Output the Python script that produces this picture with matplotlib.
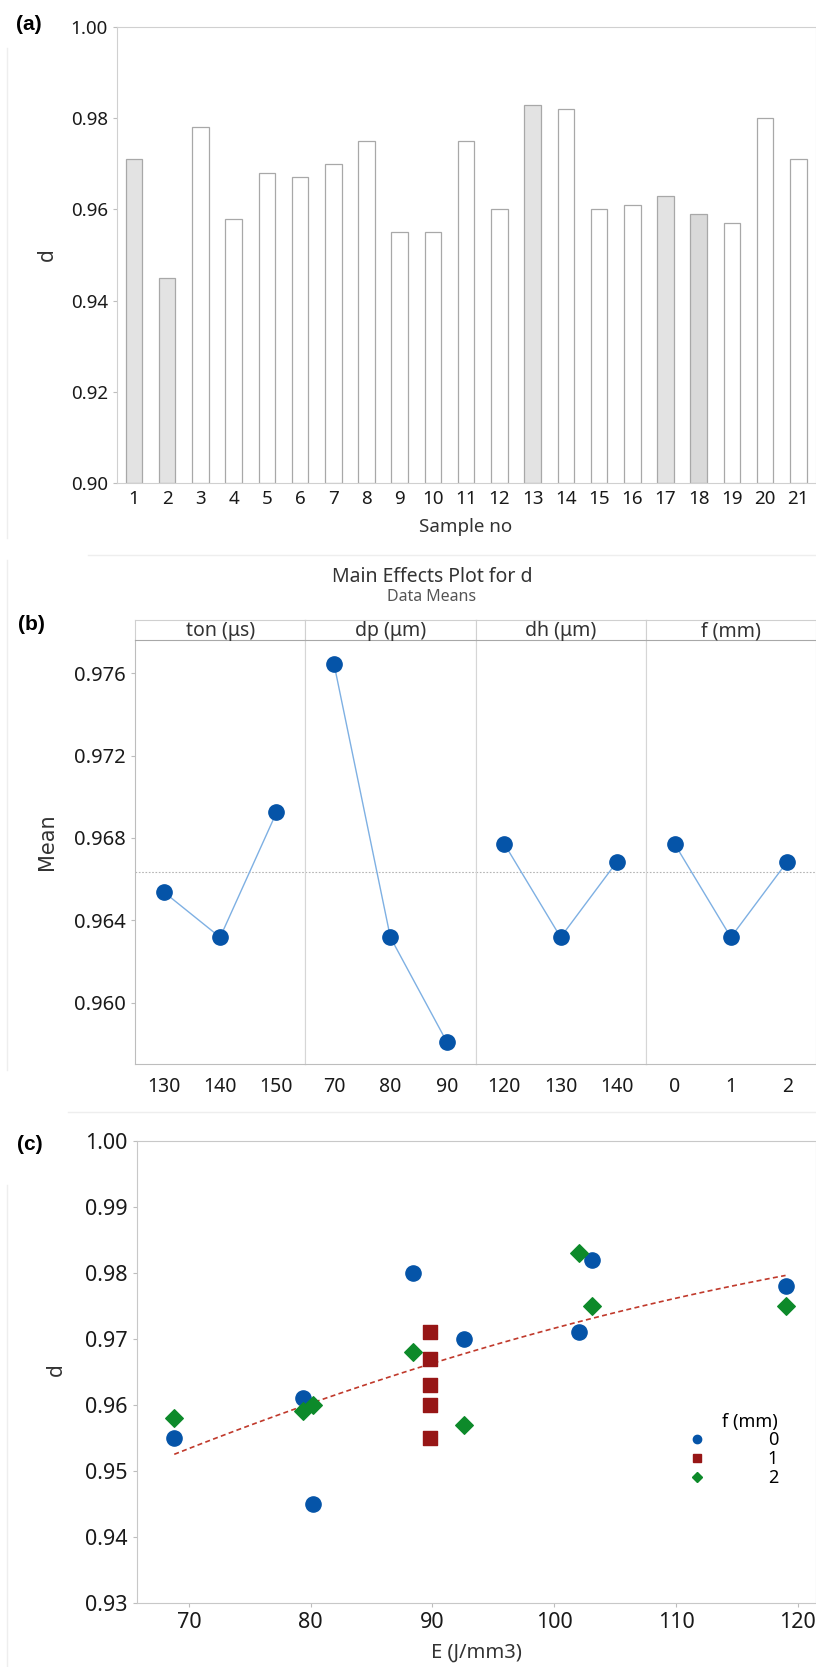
import matplotlib.pyplot as plt
from matplotlib.lines import Line2D
import numpy as np

plt.rcParams['font.family'] = ['Noto Sans', 'DejaVu Sans']

# (a) density ratio per sample
samples = list(range(1, 22))
d_values = [0.971, 0.945, 0.978, 0.958, 0.968, 0.967, 0.970, 0.975, 0.955, 0.955,
            0.975, 0.960, 0.983, 0.982, 0.960, 0.961, 0.963, 0.959, 0.957, 0.980, 0.971]
shaded = {1: '#e3e3e3', 2: '#e3e3e3', 13: '#e3e3e3', 17: '#e3e3e3', 18: '#d9d9d9'}

# (b) main effects
factors = ['ton (μs)', 'dp (μm)', 'dh (μm)', 'f (mm)']
levels = [['130', '140', '150'], ['70', '80', '90'], ['120', '130', '140'], ['0', '1', '2']]
level_means = [[0.96538, 0.96318, 0.96924],
               [0.97645, 0.96318, 0.95811],
               [0.96772, 0.96318, 0.96685],
               [0.96772, 0.96318, 0.96685]]

# (c) d vs energy density, grouped by f
E_f0 = [68.8, 79.4, 80.2, 88.4, 92.6, 102.0, 103.1, 119.0]
d_f0 = [0.955, 0.961, 0.945, 0.980, 0.970, 0.971, 0.982, 0.978]
E_f1 = [89.8, 89.8, 89.8, 89.8, 89.8]
d_f1 = [0.971, 0.967, 0.963, 0.960, 0.955]
E_f2 = [68.8, 79.4, 80.2, 88.4, 92.6, 102.0, 103.1, 119.0]
d_f2 = [0.958, 0.959, 0.960, 0.968, 0.957, 0.983, 0.975, 0.975]

W, H = 816, 1667
fig = plt.figure(figsize=(W / 100, H / 100), dpi=100)


def box(x0, y0, x1, y1):
    # pixel box (top-left origin) -> figure fraction rect
    return [x0 / W, 1 - y1 / H, (x1 - x0) / W, (y1 - y0) / H]


spine_c = '#bdbdbd'
tick_c = '#1a1a1a'
lab_c = '#333333'
panel_font = dict(fontsize=15, fontweight='bold', family='Liberation Sans', ha='center', va='center')

# faint panel frames
for (x0, y0, x1, y1) in [(7, 48, 538, 555), (7, 560, 1070, 1112), (7, 1185, 1667, 1667)]:
    fig.add_artist(Line2D([x0 / W, x0 / W], [1 - y0 / H, 1 - x1 / H], color='#eeeeee', lw=1))
    if y1 < H:
        fig.add_artist(Line2D([(88 if y1 == 555 else 68) / W, 1], [1 - y1 / H, 1 - y1 / H],
                              color='#eeeeee', lw=1))

# ---------- (a)
ax = fig.add_axes(box(117, 27, 816, 483))
cols = [shaded.get(s, 'white') for s in samples]
ax.bar(samples, [v - 0.9 for v in d_values], bottom=0.9, width=0.5, color=cols,
       edgecolor='#a8a8a8', linewidth=0.9)
ax.set_xlim(0.49, 21.53)
ax.set_ylim(0.9, 1.0)
ax.set_xticks(samples)
ax.set_yticks([0.90, 0.92, 0.94, 0.96, 0.98, 1.00])
ax.yaxis.set_major_formatter(plt.FormatStrFormatter('%.2f'))
ax.tick_params(axis='both', labelsize=13.5, colors=spine_c, labelcolor=tick_c, length=3)
ax.tick_params(axis='x', length=0, pad=5)
for s in ax.spines.values():
    s.set_color('#d0d0d0')
fig.text(29 / W, 1 - 25 / H, '(a)', **panel_font)
fig.text(47 / W, 1 - 255 / H, 'd', fontsize=15, rotation=90, ha='center', va='center', color=lab_c)
fig.text(466 / W, 1 - 527 / H, 'Sample no', fontsize=13.5, ha='center', va='center', color=lab_c)

# ---------- (b)
fig.text(432 / W, 1 - 577 / H, 'Main Effects Plot for d', fontsize=14, ha='center', va='center',
         color=lab_c)
fig.text(432 / W, 1 - 597 / H, 'Data Means', fontsize=11.5, ha='center', va='center', color='#555555')
fig.text(31 / W, 1 - 625 / H, '(b)', **panel_font)
grand_mean = np.mean(d_values)
pw = (816 - 135) / 4
for i, (name, labs, m) in enumerate(zip(factors, levels, level_means)):
    x0 = 135 + i * pw
    bx = fig.add_axes(box(x0, 640, x0 + pw, 1064))
    bx.axhline(grand_mean, color='#b5b5b5', ls=(0, (1.5, 1.5)), lw=0.8, zorder=1)
    bx.plot(range(3), m, color='#7eb0e3', lw=1, zorder=2)
    bx.plot(range(3), m, 'o', color='#0554a8', ms=11, zorder=3)
    bx.set_xlim(-0.51, 2.51)
    bx.set_ylim(0.95703, 0.97761)
    bx.set_xticks(range(3))
    bx.set_xticklabels(labs)
    bx.tick_params(axis='x', labelsize=14, length=0, pad=9, labelcolor=tick_c)
    if i == 0:
        bx.set_yticks([0.960, 0.964, 0.968, 0.972, 0.976])
        bx.yaxis.set_major_formatter(plt.FormatStrFormatter('%.3f'))
        bx.tick_params(axis='y', labelsize=14.5, length=3, colors=spine_c, labelcolor=tick_c)
    else:
        bx.set_yticks([])
    bx.spines['top'].set_visible(False)
    bx.spines['bottom'].set_color(spine_c)
    bx.spines['left'].set_color(spine_c if i == 0 else '#d6d6d6')
    bx.spines['right'].set_color('#d6d6d6')
    hx = fig.add_axes(box(x0, 620, x0 + pw, 640))
    hx.set_xticks([])
    hx.set_yticks([])
    for s in hx.spines.values():
        s.set_color('#d0d0d0')
    hx.spines['bottom'].set_color('#a8a8a8')
    hx.text(0.5, 0.45, name, fontsize=14, ha='center', va='center', color=lab_c,
            transform=hx.transAxes)
fig.text(47 / W, 1 - 842 / H, 'Mean', fontsize=15, rotation=90, ha='center', va='center',
         color=lab_c, family='DejaVu Sans')

# ---------- (c)
cx = fig.add_axes(box(136.5, 1141, 816, 1602.7))
cx.scatter(E_f0, d_f0, marker='o', s=120, color='#0554a8', zorder=3)
cx.scatter(E_f1, d_f1, marker='s', s=100, color='#971616', zorder=3)
cx.scatter(E_f2, d_f2, marker='D', s=80, color='#0d8a2a', zorder=3)
E_all = np.array(E_f0 + E_f1 + E_f2)
d_all = np.array(d_f0 + d_f1 + d_f2)
coef = np.polyfit(E_all, d_all, 2)
xs = np.linspace(E_all.min(), E_all.max(), 100)
cx.plot(xs, np.polyval(coef, xs), color='#c0392b', ls=(0, (3, 2)), lw=1.2, zorder=2)
cx.set_xlim(65.7, 121.5)
cx.set_ylim(0.93, 1.00)
cx.set_xticks([70, 80, 90, 100, 110, 120])
cx.set_yticks([0.93, 0.94, 0.95, 0.96, 0.97, 0.98, 0.99, 1.00])
cx.yaxis.set_major_formatter(plt.FormatStrFormatter('%.2f'))
cx.tick_params(axis='both', labelsize=15.5, colors=spine_c, labelcolor=tick_c, length=3)
for s in cx.spines.values():
    s.set_color('#c8c8c8')
handles = [Line2D([], [], ls='', marker='o', color='#0554a8', ms=6),
           Line2D([], [], ls='', marker='s', color='#971616', ms=6),
           Line2D([], [], ls='', marker='D', color='#0d8a2a', ms=5)]
leg = cx.legend(handles, ['0', '1', '2'], title='f (mm)', loc='upper left',
                bbox_to_anchor=(0.775, 0.447), frameon=False, fontsize=13, title_fontsize=13,
                handletextpad=2.9, labelspacing=0.05, alignment='right')
fig.text(30 / W, 1 - 1144 / H, '(c)', **panel_font)
fig.text(56 / W, 1 - 1370 / H, 'd', fontsize=15, rotation=90, ha='center', va='center', color=lab_c)
fig.text(476 / W, 1 - 1653 / H, 'E (J/mm3)', fontsize=14.5, ha='center', va='center', color=lab_c)

fig.savefig('out.png', dpi=100)
